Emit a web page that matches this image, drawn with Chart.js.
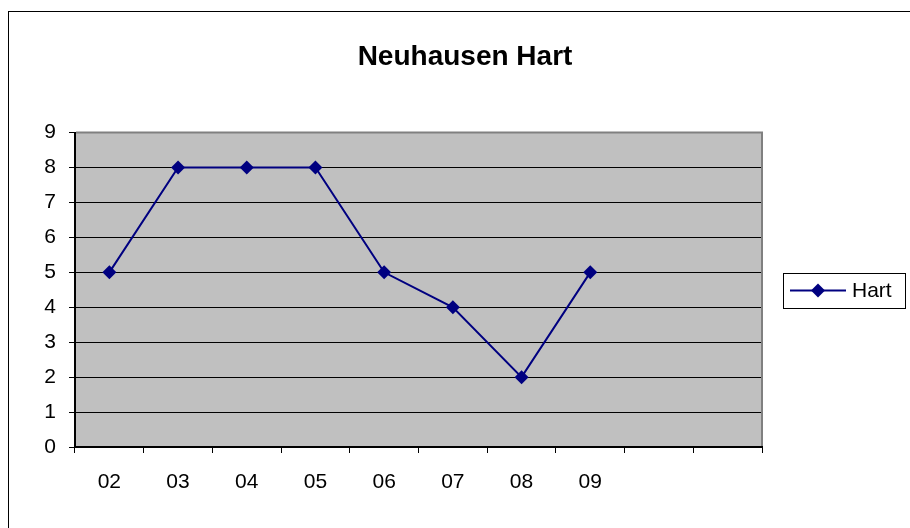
<!DOCTYPE html>
<html>
<head>
<meta charset="utf-8">
<title>Neuhausen Hart</title>
<script src="https://cdn.jsdelivr.net/npm/chart.js@4/dist/chart.umd.min.js"></script>
<style>
    html, body { margin: 0; padding: 0; background: #fff; }
    #wrap { width: 910px; height: 528px; position: relative; }
</style>
</head>
<body>
<div id="wrap"><canvas id="chart" width="910" height="528"></canvas></div>
<script>
// Chart data
const chartTitle = 'Neuhausen Hart';
const seriesName = 'Hart';
const categories = ['02', '03', '04', '05', '06', '07', '08', '09', '', ''];
const hartValues = [5, 8, 8, 8, 5, 4, 2, 5, null, null];
const yTicks = [0, 1, 2, 3, 4, 5, 6, 7, 8, 9];

const FONT = '"Liberation Sans", Arial, sans-serif';
const NAVY = '#000080';

// Gray plot area, outer frame
const plotFrame = {
    id: 'plotFrame',
    beforeDraw(chart) {
        const ctx = chart.ctx;
        const a = chart.chartArea;
        ctx.save();
        ctx.fillStyle = '#fff';
        ctx.fillRect(0, 0, chart.width, chart.height);
        ctx.strokeStyle = '#000';
        ctx.lineWidth = 1;
        ctx.strokeRect(8.5, 11.5, chart.width + 20, chart.height + 20);
        ctx.fillStyle = '#c0c0c0';
        ctx.fillRect(a.left, a.top, a.right - a.left, a.bottom - a.top);
        ctx.restore();
    },
    beforeDatasetsDraw(chart) {
        const ctx = chart.ctx;
        const a = chart.chartArea;
        ctx.save();
        ctx.strokeStyle = '#808080';
        ctx.lineWidth = 2;
        ctx.beginPath();
        ctx.moveTo(a.left + 1, a.top);
        ctx.lineTo(a.right, a.top);
        ctx.lineTo(a.right, a.bottom - 1);
        ctx.stroke();
        ctx.restore();
    }
};

// Excel style legend box
const boxLegend = {
    id: 'boxLegend',
    afterDraw(chart) {
        const ctx = chart.ctx;
        const ds = chart.data.datasets[0];
        const a = chart.chartArea;
        const x = a.right + 21, w = 122, h = 35;
        const y = Math.round((a.top + a.bottom) / 2) - 17;
        const cy = y + h / 2;
        ctx.save();
        ctx.strokeStyle = '#000';
        ctx.lineWidth = 1;
        ctx.strokeRect(x + 0.5, y + 0.5, w, h);
        ctx.strokeStyle = ds.borderColor;
        ctx.lineWidth = 2;
        ctx.beginPath();
        ctx.moveTo(x + 7, cy);
        ctx.lineTo(x + 63, cy);
        ctx.stroke();
        ctx.fillStyle = ds.pointBackgroundColor;
        Chart.helpers.drawPoint(ctx, { pointStyle: 'rectRot', radius: 7, borderWidth: 0 }, x + 35, cy);
        ctx.fillStyle = '#000';
        ctx.font = '21px ' + FONT;
        ctx.textBaseline = 'middle';
        ctx.textAlign = 'left';
        ctx.fillText(ds.label, x + 69, cy + 1);
        ctx.restore();
    }
};

new Chart(document.getElementById('chart'), {
    type: 'line',
    data: {
        labels: categories,
        datasets: [{
            label: seriesName,
            data: hartValues,
            borderColor: NAVY,
            backgroundColor: NAVY,
            borderWidth: 2,
            pointStyle: 'rectRot',
            pointRadius: 7,
            pointBorderWidth: 0,
            pointBackgroundColor: NAVY,
            tension: 0
        }]
    },
    options: {
        responsive: false,
        animation: false,
        events: [],
        layout: { padding: { left: 20, right: 0, top: 0, bottom: 0 } },
        plugins: {
            legend: { display: false },
            tooltip: { enabled: false },
            title: {
                display: true,
                text: chartTitle,
                color: '#000',
                font: { family: FONT, size: 28, weight: 'bold', lineHeight: 1.2 },
                padding: { top: 40, bottom: 59 }
            }
        },
        scales: {
            x: {
                offset: true,
                grid: { offset: true, drawOnChartArea: false, drawTicks: true, tickLength: 6, color: '#000', lineWidth: 1 },
                border: { display: true, color: '#000', width: 2 },
                ticks: { color: '#000', font: { family: FONT, size: 21 }, padding: 17, maxRotation: 0, autoSkip: false },
                afterFit(scale) { scale.height = 81; }
            },
            y: {
                min: 0,
                max: 9,
                afterBuildTicks(scale) { scale.ticks = yTicks.map(v => ({ value: v })); },
                grid: { color: '#000', lineWidth: 1, tickLength: 6 },
                border: { display: true, color: '#000', width: 2 },
                ticks: { color: '#000', font: { family: FONT, size: 21 }, padding: 13 },
                afterFit(scale) { scale.width = 55; }
            },
            // empty right-hand strip that holds the legend box
            legendSpace: {
                type: 'linear',
                position: 'right',
                display: true,
                grid: { display: false },
                border: { display: false },
                ticks: { display: false },
                afterFit(scale) { scale.width = 148; }
            }
        }
    },
    plugins: [plotFrame, boxLegend]
});
</script>
</body>
</html>
